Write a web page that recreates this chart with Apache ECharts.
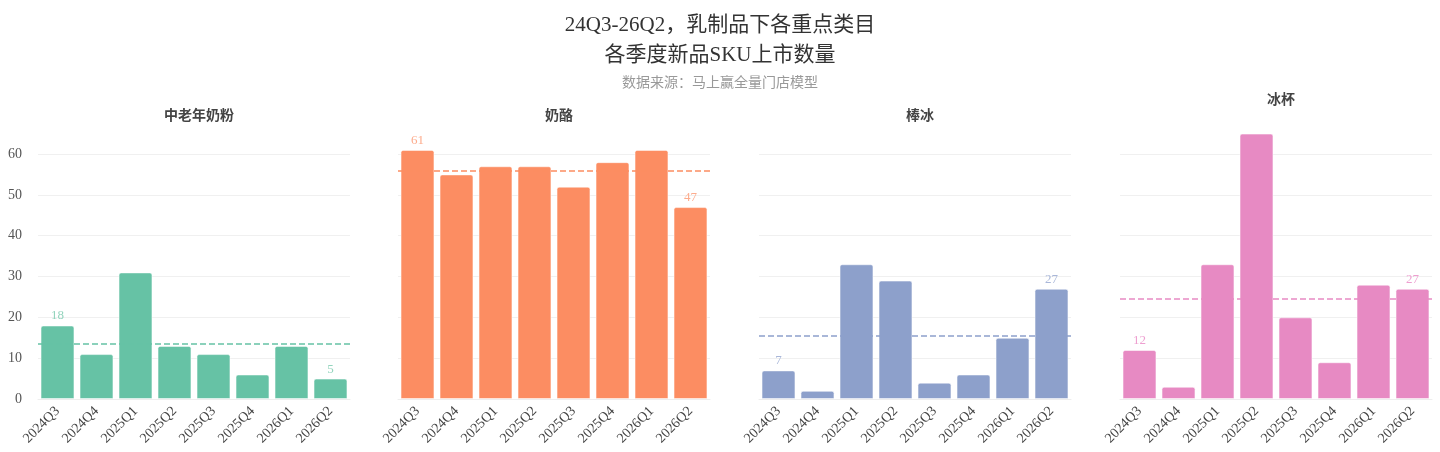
<!DOCTYPE html>
<html><head><meta charset="utf-8">
<script src="https://cdn.jsdelivr.net/npm/echarts/dist/echarts.min.js"></script>
<style>html,body{margin:0;padding:0;background:#fff}#c{width:1440px;height:452px}</style>
</head><body><div id="c"></div>
<script>
const categories = ['2024Q3','2024Q4','2025Q1','2025Q2','2025Q3','2025Q4','2026Q1','2026Q2'];
const panelNames = ['中老年奶粉','奶酪','棒冰','冰杯'];
const seniorMilkPowder = [18,11,31,13,11,6,13,5];
const cheese = [61,55,57,57,52,58,61,47];
const iceBar = [7,2,33,29,4,6,15,27];
const iceCup = [12,3,33,65,20,9,28,27];
const yMin = 0, yMax = 60, yInterval = 10;

const panelData = [seniorMilkPowder, cheese, iceBar, iceCup];
const colors = ['#66c2a5','#fc8d62','#8da0cb','#e78ac3'];
const labelColors = ['#93d4bd','#fdac8d','#a9b7d9','#ee9fd0'];
const lefts = [38, 398, 759, 1120];
const W = 312;
const titleTops = [104, 104, 104, 88];
const serif = "'Liberation Serif','DejaVu Serif','Noto Sans CJK SC',serif";

const grids = [], xAxes = [], yAxes = [], series = [];
const titles = [{
  text: '24Q3-26Q2，乳制品下各重点类目\n各季度新品SKU上市数量',
  left: 'center', top: 5,
  textStyle: {fontFamily: serif, fontSize: 21, fontWeight: 'normal', color: '#333', lineHeight: 30},
  subtext: '数据来源：马上赢全量门店模型',
  subtextStyle: {fontFamily: serif, fontSize: 14, color: '#999'},
  itemGap: 6
}];
panelData.forEach((d, i) => {
  grids.push({left: lefts[i], width: W, top: 154, bottom: 53});
  titles.push({
    text: panelNames[i], left: lefts[i] + W/2, top: titleTops[i], textAlign: 'center',
    textStyle: {fontFamily: serif, fontSize: 14, fontWeight: 'bold', color: '#444'}
  });
  xAxes.push({
    type: 'category', gridIndex: i, data: categories,
    axisTick: {show: false},
    axisLine: {show: true, lineStyle: {color: '#eeeeee'}},
    axisLabel: {rotate: 45, fontFamily: serif, fontSize: 14, color: '#444', margin: 10, interval: 0}
  });
  yAxes.push({
    type: 'value', gridIndex: i, min: yMin, max: yMax, interval: yInterval,
    axisLine: {show: false}, axisTick: {show: false},
    axisLabel: {show: i === 0, fontFamily: serif, fontSize: 14, color: '#555', margin: 16},
    splitLine: {lineStyle: {color: '#f0f0f0'}}
  });
  const last = d.length - 1;
  series.push({
    type: 'line', xAxisIndex: i, yAxisIndex: i, data: d, z: 1,
    symbol: 'none', lineStyle: {opacity: 0}, silent: true,
    markLine: {
      silent: true, symbol: 'none', label: {show: false},
      lineStyle: {type: 'dashed', color: colors[i], width: 1.5},
      data: [{type: 'average'}]
    }
  });
  series.push({
    type: 'bar', xAxisIndex: i, yAxisIndex: i, data: d, z: 2,
    barCategoryGap: '13%', clip: false,
    itemStyle: {color: colors[i], borderRadius: [2,2,0,0], borderColor: 'rgba(255,255,255,0.5)', borderWidth: 1},
    label: {
      show: true, position: 'top', distance: 3, fontFamily: serif, fontSize: 13, color: labelColors[i],
      formatter: p => (p.dataIndex === 0 || p.dataIndex === last) ? String(p.value) : ''
    }
  });
});

const chart = echarts.init(document.getElementById('c'));
chart.setOption({
  animation: false,
  backgroundColor: '#fff',
  title: titles, grid: grids, xAxis: xAxes, yAxis: yAxes, series: series
});
</script></body></html>
